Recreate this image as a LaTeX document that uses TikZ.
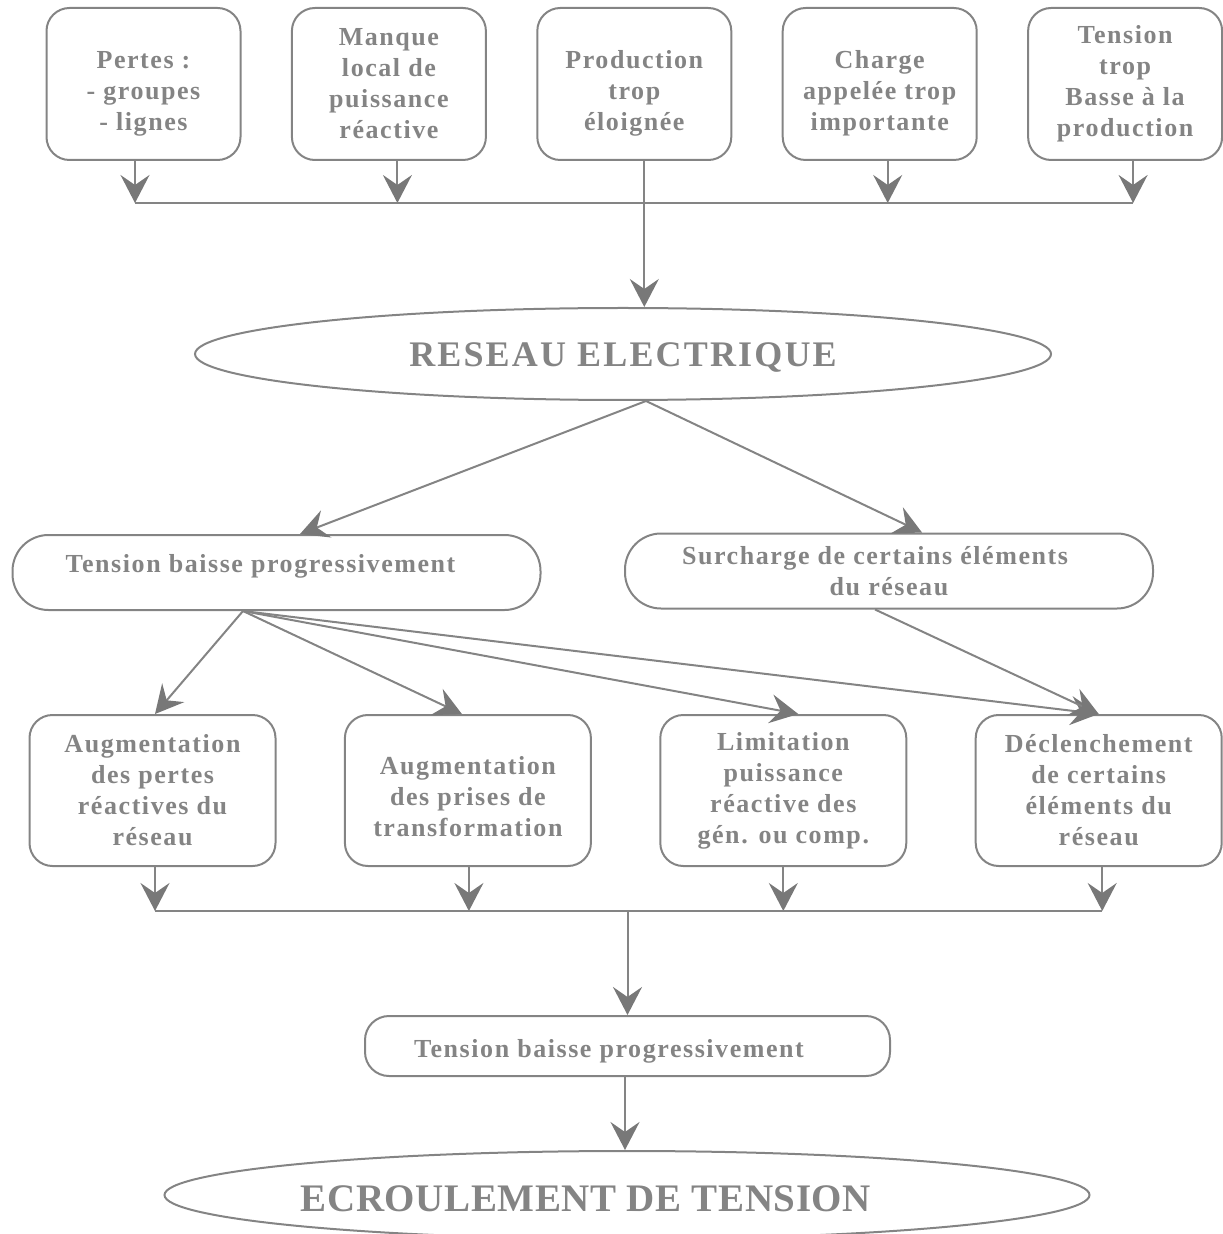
\documentclass[tikz,border=0pt]{standalone}
\usepackage{fontspec}
\setmainfont{Liberation Serif}
\newfontfamily\boxfont{Liberation Serif}[LetterSpace=6]
\newfontfamily\titlefont{Liberation Serif}[LetterSpace=6]
\newfontfamily\endfont{Liberation Serif}[LetterSpace=1.5]
\usetikzlibrary{shapes.geometric,positioning,arrows.meta}
\definecolor{ink}{RGB}{132,132,132}
\definecolor{tipink}{RGB}{120,120,120}

\begin{document}
\begin{tikzpicture}[x=0.5pt,y=-0.5pt,on grid,
	box/.style={draw=ink,line width=1pt,rounded corners=11.5pt,minimum width=97pt,minimum height=76pt,inner sep=0pt,align=center,text=ink,font=\boxfont\bfseries\fontsize{13}{15.5}\selectfont},
	lowbox/.style={box,minimum width=123pt,minimum height=75.5pt},
	pill/.style={box,rounded corners=18pt,minimum width=264pt,minimum height=37.5pt},
	oval/.style={ellipse,draw=ink,line width=1pt,inner sep=0pt,text=ink,font=\titlefont\bfseries\fontsize{18}{21}\selectfont},
	arr/.style={draw=ink,line width=1pt,-{Stealth[length=14pt,width=14.5pt,inset=5pt,fill=tipink,color=tipink]}},
	bus/.style={draw=ink,line width=1pt}]
	\useasboundingbox (0,0) rectangle (1222,1234);

	% causes
	\node[box] (pertes) at (143.5,84) {\rule{0pt}{18pt}Pertes :\\- groupes\\- lignes};
	\node[box] (manque) [right=122.7pt of pertes] {Manque\\local de\\puissance\\réactive};
	\node[box] (prod) [right=122.7pt of manque] {\rule{0pt}{18pt}Production\\trop\\éloignée};
	\node[box] (charge) [right=122.7pt of prod] {\rule{0pt}{18pt}Charge\\appelée trop\\importante};
	\node[box] (basse) [right=122.7pt of charge] {Tension\\trop\\Basse à la\\production};

	\node[oval,minimum width=428pt,minimum height=46pt,text height=15pt,text depth=2pt] (reseau) at (623,354) {RESEAU ELECTRIQUE};

	\node[pill] (baisse) at (276.5,572.5) {Tension baisse progressivement\hspace*{16pt}\\[-6pt]\mbox{}};
	\node[pill] (surcharge) at (889,571) {Surcharge de certains éléments\hspace*{14pt}\\du réseau};

	% effets
	\node[lowbox] (pertesr) at (152.5,790.5) {Augmentation\\des pertes\\réactives du\\réseau};
	\node[lowbox] (prises) [right=157.7pt of pertesr] {\rule{0pt}{15pt}Augmentation\\des prises de\\transformation};
	\node[lowbox] (limit) [right=157.7pt of prises] {Limitation\\puissance\\réactive des\\gén. ou comp.};
	\node[lowbox] (declench) [right=157.7pt of limit] {Déclenchement\\de certains\\éléments du\\réseau};

	\node[box,rounded corners=12pt,minimum width=262.5pt,minimum height=30pt,text height=14pt,text depth=3pt] (baisse2) at (627.5,1046) {Tension baisse progressivement\hspace*{18.5pt}};

	\node[oval,font=\endfont\bfseries\fontsize{19.5}{22}\selectfont,minimum width=462.5pt,minimum height=44pt,text height=16pt,text depth=0pt] (ecroul) at (627,1195) {ECROULEMENT DE TENSION\hspace*{41pt}};

	\coordinate (bus1) at (0,203);
	\coordinate (bus2) at (0,911);

	% first collector
	\draw[arr] ([xshift=-4.25pt]pertes.south) -- ([xshift=-4.25pt]pertes.south |- bus1);
	\draw[arr] ([xshift=4.25pt]manque.south) -- ([xshift=4.25pt]manque.south |- bus1);
	\draw[arr] ([xshift=4pt]charge.south) -- ([xshift=4pt]charge.south |- bus1);
	\draw[arr] ([xshift=4pt]basse.south) -- ([xshift=4pt]basse.south |- bus1);
	\draw[bus] ([xshift=-4.25pt]pertes.south |- bus1) -- ([xshift=4pt]basse.south |- bus1);
	\draw[arr] ([xshift=5pt]prod.south) -- ([xshift=5pt]prod.south |- reseau.north);

	\draw[arr] ([xshift=11.5pt]reseau.south) -- ([xshift=11.75pt]baisse.north);
	\draw[arr] ([xshift=11.5pt]reseau.south) -- ([xshift=16.5pt]surcharge.north);
	\draw[arr] ([xshift=-16.75pt]baisse.south) -- ([xshift=1.25pt]pertesr.north);
	\draw[arr] ([xshift=-16.75pt]baisse.south) -- ([xshift=-3pt]prises.north);
	\draw[arr] ([xshift=-16.75pt]baisse.south) -- ([xshift=7.5pt]limit.north);
	\draw[arr] ([xshift=-16.75pt]baisse.south) -- (declench.north);
	\draw[arr] ([xshift=-7pt]surcharge.south) -- (declench.north);

	% second collector
	\draw[arr] ([xshift=1.25pt]pertesr.south) -- ([xshift=1.25pt]pertesr.south |- bus2);
	\draw[arr] ([xshift=0.5pt]prises.south) -- ([xshift=0.5pt]prises.south |- bus2);
	\draw[arr] (limit.south) -- (limit.south |- bus2);
	\draw[arr] ([xshift=1.75pt]declench.south) -- ([xshift=1.75pt]declench.south |- bus2);
	\draw[bus] ([xshift=1.25pt]pertesr.south |- bus2) -- ([xshift=1.75pt]declench.south |- bus2);
	\draw[arr] (baisse2.north |- bus2) -- (baisse2.north);
	\draw[arr] ([xshift=-1.25pt]baisse2.south) -- ([xshift=-1.25pt]baisse2.south |- ecroul.north);
\end{tikzpicture}
\end{document}
